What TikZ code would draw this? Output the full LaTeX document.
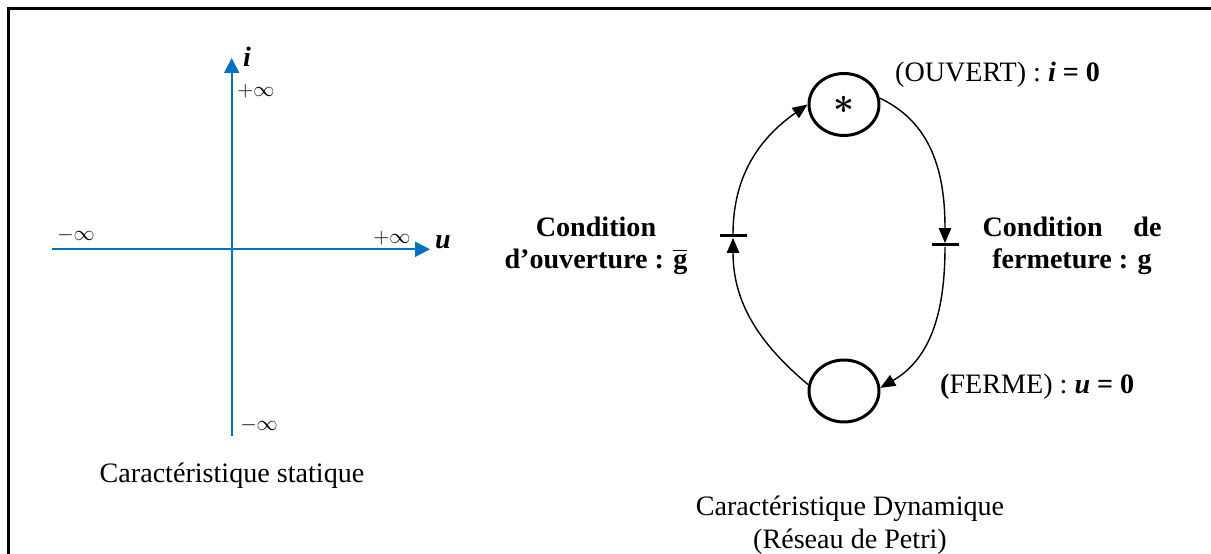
\documentclass[tikz,border=0pt]{standalone}
\usepackage{fontspec}
\setmainfont{Liberation Serif}
\usepackage{amsmath}
\usepackage{tikz}
\usetikzlibrary{arrows.meta,positioning,shapes.geometric}
\definecolor{bleu}{RGB}{0,112,192}
\tikzset{
  axe/.style={draw=bleu, line width=1pt, -{Triangle[length=8.5pt,width=8.5pt]}},
  etat/.style={ellipse, draw, line width=1.7pt, minimum width=1.4cm, minimum height=1.24cm, inner sep=0pt},
  barre/.style={rectangle, fill=black, minimum width=0.54cm, minimum height=0.06cm, inner sep=0pt},
  fleche/.style={line width=0.8pt, -{Triangle[length=8.5pt,width=7pt]}},
  txt/.style={font=\fontsize{16}{18.5}\selectfont},
  inf/.style={font=\fontsize{13}{15}\selectfont},
}

\begin{document}
\begin{tikzpicture}[x=0.02cm,y=0.02cm]
        \useasboundingbox (0,0) rectangle (1211,554);
        % Frame
        \draw[line width=1.7pt] (8.5,0) -- (8.5,545.5) -- (1211,545.5);
        % Axes of the static characteristic
        \coordinate (X1) at (52,304.7);
        \coordinate (X2) at (430,304.7);
        \coordinate (Y1) at (231.7,118);
        \coordinate (Y2) at (231.7,496);
        \draw[axe] (X1) -- (X2);
        \draw[axe] (Y1) -- (Y2);
        \node[txt] (Li) at (247,497) {\textbf{\textit{i}}};
        \node[txt] (Lu) at (443,312) {\textbf{\textit{u}}};
        \node[inf] (Ihaut) at (256,463) {$+\infty$};
        \node[inf] (Ibas) at (259,129) {$-\infty$};
        \node[inf] (Igauche) at (76,319) {$-\infty$};
        \node[inf] (Idroite) at (392,316) {$+\infty$};
        \node[txt] (S) at (232,78) {Caractéristique statique};
        % Petri net: places and transitions
        \node[etat, font=\fontsize{22}{22}\selectfont\boldmath] (P1) at (844,449.5) {$\ast$};
        \node[etat] (P2) at (844,163) {};
        \node[barre] (T1) at (733,318) {};
        \node[barre] (T2) at (945,309) {};
        % Arcs
        \draw[fleche] (P2.170) to[out=140,in=-90] (T1.south);
        \draw[fleche] (T1.north) to[out=90,in=215] (P1.west);
        \draw[fleche] (P1.10) to[out=-25,in=90] (T2.north);
        \draw[fleche] (T2.south) to[out=-90,in=30] (P2.5);
        % Labels
        \node[txt, anchor=west] (LO) at (889,479) {(OUVERT) : \textbf{\textit{i} = 0}};
        \node[txt, anchor=west] (LF) at (934,167) {\textbf{(}FERME) : \textbf{\textit{u} = 0}};
        \node[txt, font=\fontsize{16}{18.5}\selectfont\bfseries, align=center] (C1) at (596,308)
          {Condition\\d’ouverture : $\overline{\mbox{g}}$};
        \node[txt, font=\fontsize{16}{18.5}\selectfont\bfseries, align=center] (C2) at (1072,308)
          {\makebox[3.58cm]{Condition\hfill de}\\fermeture : g};
        \node[txt, align=center] (D) at (850,29) {Caractéristique Dynamique\\(Réseau de Petri)};
\end{tikzpicture}
\end{document}
